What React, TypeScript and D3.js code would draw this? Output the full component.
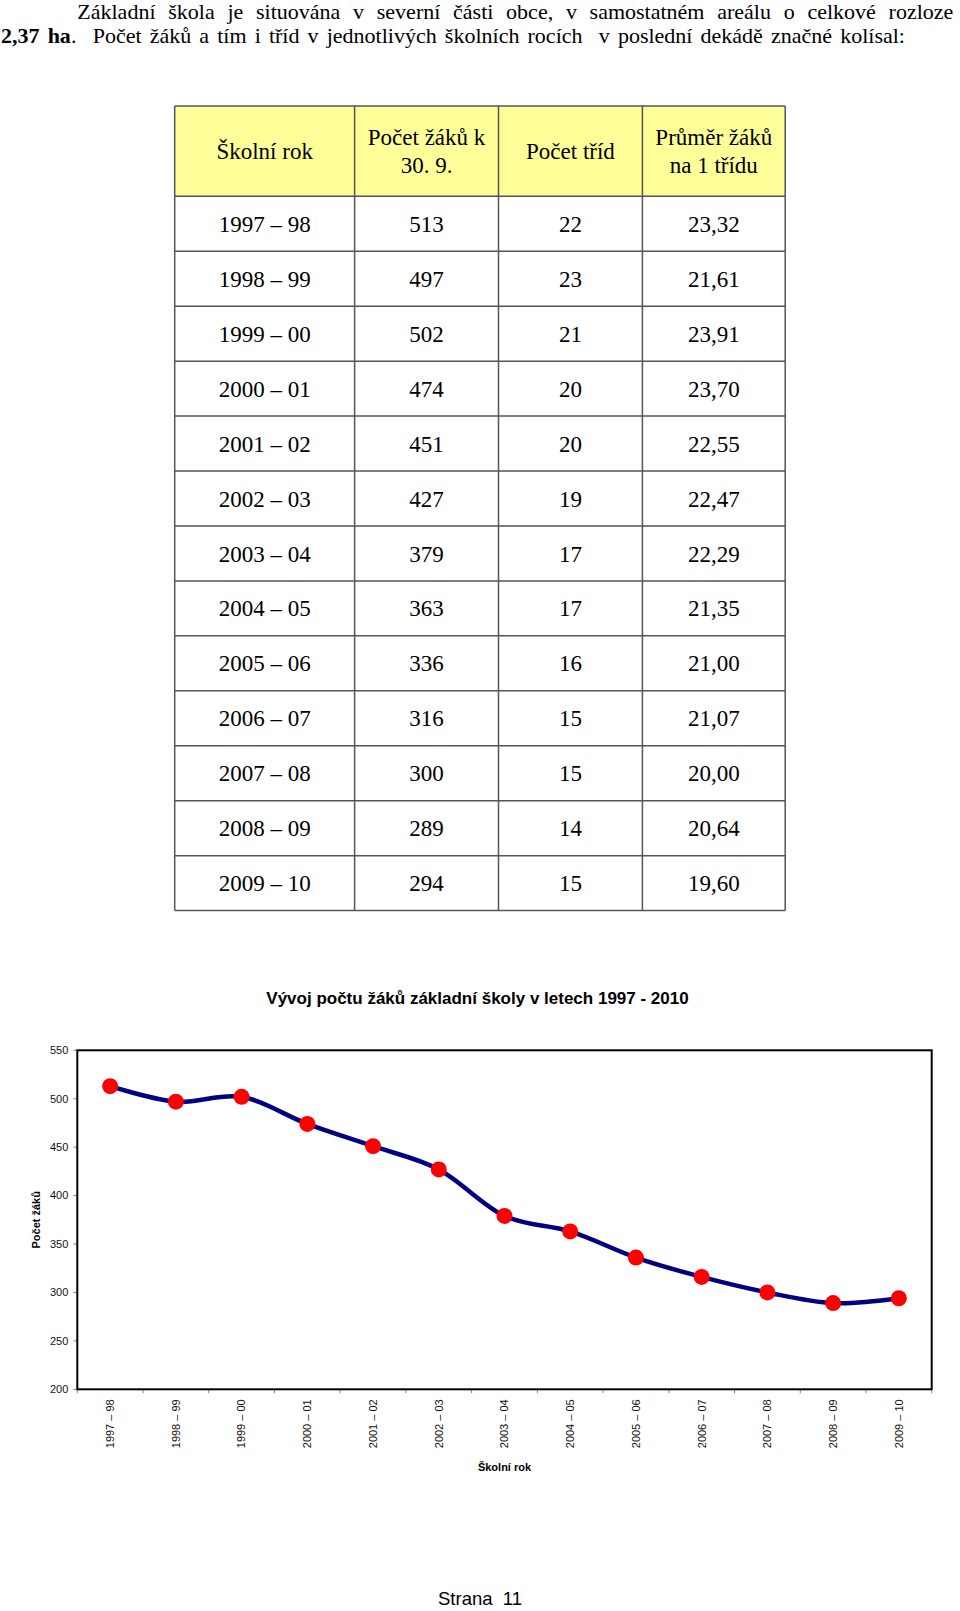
import React, { useRef, useEffect } from 'react';
import * as d3 from 'd3';

const years = ['1997 – 98', '1998 – 99', '1999 – 00', '2000 – 01', '2001 – 02', '2002 – 03', '2003 – 04', '2004 – 05', '2005 – 06', '2006 – 07', '2007 – 08', '2008 – 09', '2009 – 10'];
const pupils = [513, 497, 502, 474, 451, 427, 379, 363, 336, 316, 300, 289, 294];
const classes = [22, 23, 21, 20, 20, 19, 17, 17, 16, 15, 15, 14, 15];
const average = ['23,32', '21,61', '23,91', '23,70', '22,55', '22,47', '22,29', '21,35', '21,00', '21,07', '20,00', '20,64', '19,60'];
const headers = [['Školní rok'], ['Počet žáků k', '30. 9.'], ['Počet tříd'], ['Průměr žáků', 'na 1 třídu']];
const yTicks = [200, 250, 300, 350, 400, 450, 500, 550];

const SERIF = '"Liberation Serif", "Times New Roman", serif';
const SANS = '"Liberation Sans", Arial, sans-serif';

// stretch a text line to a target width by widening the gaps between words
const justify = (sel: d3.Selection<SVGTextElement, unknown, null, undefined>, target: number, spaces: number) => {
  const node = sel.node();
  if (!node) return;
  const natural = node.getComputedTextLength();
  const extra = (target - natural) / spaces;
  if (extra > 0) sel.attr('word-spacing', extra);
};

const App = () => {
  const svgRef = useRef<SVGSVGElement>(null);

  useEffect(() => {
    if (!svgRef.current) return;
    const svg = d3.select(svgRef.current);
    svg.selectAll('*').remove();

    // Intro paragraph
    const line1Text = 'Základní škola je situována v severní části obce, v samostatném areálu o celkové rozloze';
    const line1 = svg.append('text')
      .attr('x', 77.3)
      .attr('y', 19.3)
      .attr('font-family', SERIF)
      .attr('font-size', 22)
      .text(line1Text);
    justify(line1 as any, 876, line1Text.split(' ').length - 1);

    const line2Rest = '.  Počet žáků a tím i tříd v jednotlivých školních rocích  v poslední dekádě značné kolísal:';
    const line2 = svg.append('text')
      .attr('x', 1)
      .attr('y', 43.3)
      .attr('font-family', SERIF)
      .attr('font-size', 22)
      .style('white-space', 'pre');
    line2.append('tspan').attr('font-weight', 'bold').text('2,37 ha');
    line2.append('tspan').text(line2Rest);
    justify(line2 as any, 904, line2Rest.split(' ').length);

    // Table
    const colEdges = [174.7, 354.6, 498.5, 642.4, 785.2];
    const tableTop = 105.9;
    const headerBottom = 196.3;
    const tableBottom = 910.6;

    const rowScale = d3.scaleBand<string>()
      .domain(years)
      .range([headerBottom, tableBottom]);

    const table = svg.append('g').attr('font-family', SERIF).attr('font-size', 23);

    table.append('rect')
      .attr('x', colEdges[0])
      .attr('y', tableTop)
      .attr('width', colEdges[4] - colEdges[0])
      .attr('height', headerBottom - tableTop)
      .attr('fill', '#ffff99');

    headers.forEach((lines, c) => {
      const cx = (colEdges[c] + colEdges[c + 1]) / 2;
      const cy = (tableTop + headerBottom) / 2;
      lines.forEach((ln, i) => {
        table.append('text')
          .attr('x', cx)
          .attr('y', cy + (i - (lines.length - 1) / 2) * 27.7)
          .attr('dy', '0.35em')
          .attr('text-anchor', 'middle')
          .text(ln);
      });
    });

    years.forEach((yr, i) => {
      const cy = rowScale(yr)! + rowScale.bandwidth() / 2;
      const cells = [yr, String(pupils[i]), String(classes[i]), average[i]];
      cells.forEach((val, c) => {
        table.append('text')
          .attr('x', (colEdges[c] + colEdges[c + 1]) / 2)
          .attr('y', cy)
          .attr('dy', '0.35em')
          .attr('text-anchor', 'middle')
          .text(val);
      });
    });

    // grid lines
    const hLines = [tableTop, headerBottom, ...years.map(y => rowScale(y)! + rowScale.bandwidth())];
    hLines.forEach(y => {
      table.append('line')
        .attr('x1', colEdges[0]).attr('x2', colEdges[4])
        .attr('y1', y).attr('y2', y)
        .attr('stroke', '#555').attr('stroke-width', 1.5);
    });
    colEdges.forEach(x => {
      table.append('line')
        .attr('x1', x).attr('x2', x)
        .attr('y1', tableTop).attr('y2', tableBottom)
        .attr('stroke', '#555').attr('stroke-width', 1.5);
    });

    // Chart
    const plot = { left: 77.3, right: 931.7, top: 1050.3, bottom: 1389.3 };

    const xScale = d3.scaleBand<string>()
      .domain(years)
      .range([plot.left, plot.right]);

    const yScale = d3.scaleLinear()
      .domain([200, 550])
      .range([plot.bottom, plot.top]);

    svg.append('text')
      .attr('x', 477.5)
      .attr('y', 1003.5)
      .attr('text-anchor', 'middle')
      .attr('font-family', SANS)
      .attr('font-size', 17)
      .attr('font-weight', 'bold')
      .text('Vývoj počtu žáků základní školy v letech 1997 - 2010');

    // y axis ticks and labels
    const yAxis = svg.append('g').attr('font-family', SANS).attr('font-size', 11);
    yTicks.forEach(t => {
      yAxis.append('line')
        .attr('x1', plot.left - 4).attr('x2', plot.left)
        .attr('y1', yScale(t)).attr('y2', yScale(t))
        .attr('stroke', '#888').attr('stroke-width', 1);
      yAxis.append('text')
        .attr('x', plot.left - 9)
        .attr('y', yScale(t))
        .attr('dy', '0.35em')
        .attr('text-anchor', 'end')
        .attr('fill', '#111')
        .text(t);
    });

    // x axis ticks and labels
    const xAxis = svg.append('g').attr('font-family', SANS).attr('font-size', 11);
    const boundaries = [...years.map(y => xScale(y)!), plot.right];
    boundaries.forEach(x => {
      xAxis.append('line')
        .attr('x1', x).attr('x2', x)
        .attr('y1', plot.bottom).attr('y2', plot.bottom + 4)
        .attr('stroke', '#888').attr('stroke-width', 1);
    });
    years.forEach(yr => {
      const x = xScale(yr)! + xScale.bandwidth() / 2;
      xAxis.append('text')
        .attr('transform', `translate(${x},${plot.bottom + 10}) rotate(-90)`)
        .attr('dy', '0.35em')
        .attr('text-anchor', 'end')
        .attr('fill', '#111')
        .text(yr);
    });

    // axis titles
    svg.append('text')
      .attr('transform', `translate(36,${(plot.top + plot.bottom) / 2}) rotate(-90)`)
      .attr('dy', '0.35em')
      .attr('text-anchor', 'middle')
      .attr('font-family', SANS)
      .attr('font-size', 11)
      .attr('font-weight', 'bold')
      .text('Počet žáků');

    svg.append('text')
      .attr('x', (plot.left + plot.right) / 2)
      .attr('y', 1471)
      .attr('text-anchor', 'middle')
      .attr('font-family', SANS)
      .attr('font-size', 11)
      .attr('font-weight', 'bold')
      .text('Školní rok');

    // frame
    svg.append('rect')
      .attr('x', plot.left)
      .attr('y', plot.top)
      .attr('width', plot.right - plot.left)
      .attr('height', plot.bottom - plot.top)
      .attr('fill', 'none')
      .attr('stroke', '#000')
      .attr('stroke-width', 2);

    // line
    const line = d3.line<number>()
      .x((d, i) => xScale(years[i])! + xScale.bandwidth() / 2)
      .y(d => yScale(d))
      .curve(d3.curveCardinal.tension(0));

    svg.append('path')
      .datum(pupils)
      .attr('d', line)
      .attr('fill', 'none')
      .attr('stroke', '#000080')
      .attr('stroke-width', 4.5)
      .attr('stroke-linejoin', 'round');

    svg.selectAll('.marker')
      .data(pupils)
      .enter()
      .append('circle')
      .attr('class', 'marker')
      .attr('cx', (d, i) => xScale(years[i])! + xScale.bandwidth() / 2)
      .attr('cy', d => yScale(d))
      .attr('r', 8)
      .attr('fill', '#ff0000');

    // page footer
    svg.append('text')
      .attr('x', 480)
      .attr('y', 1605)
      .attr('text-anchor', 'middle')
      .attr('font-family', SANS)
      .attr('font-size', 18.5)
      .style('white-space', 'pre')
      .text('Strana  11');
  }, []);

  return (
    <svg
      ref={svgRef}
      width={960}
      height={1611}
      style={{ position: 'absolute', top: 0, left: 0, display: 'block', background: '#fff' }}
    />
  );
};

export default App;
